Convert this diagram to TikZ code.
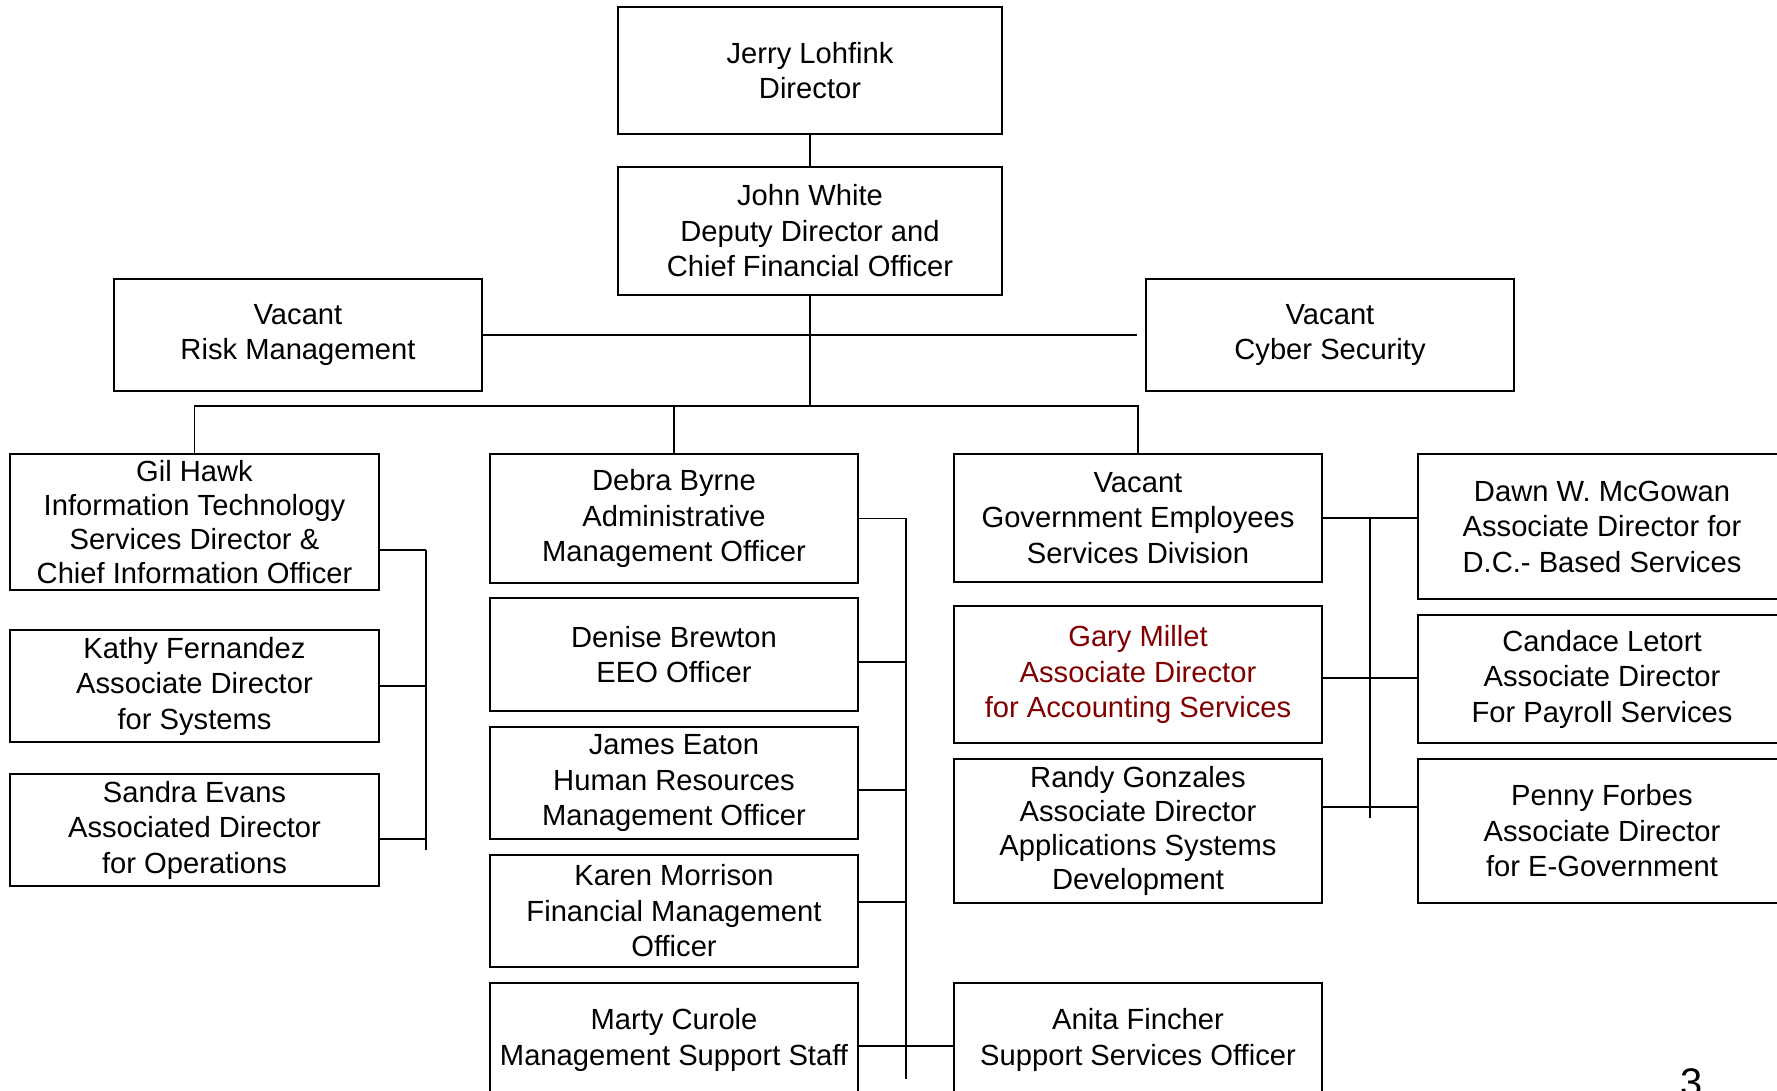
\documentclass[tikz,border=0pt]{standalone}
\usepackage{fontspec}
\setmainfont{Liberation Sans}
\usetikzlibrary{calc}
\definecolor{darkred}{RGB}{128,0,0}

\begin{document}
\begin{tikzpicture}[x=0.02cm, y=-0.02cm, line width=1.1pt,
    every node/.style={rectangle, draw, minimum width=7.36cm, inner sep=0pt, align=center, font=\fontsize{16.6}{20.2}\selectfont}]
        \useasboundingbox (0,0) rectangle (1777,1090);
        \clip (0,0) rectangle (1777,1090);

        % Nodes
        \node[minimum width=7.68cm, minimum height=2.54cm] (jerry) at (810,70.5) {Jerry Lohfink\\Director};
        \node[minimum width=7.68cm, minimum height=2.56cm] (john) at (810,231) {John White\\Deputy Director and\\Chief Financial Officer};
        \node[minimum height=2.24cm] (risk) at (298,335) {Vacant\\Risk Management};
        \node[minimum height=2.24cm] (cyber) at (1330,335) {Vacant\\Cyber Security};

        \node[minimum width=7.38cm, minimum height=2.72cm, font=\fontsize{16.6}{19.3}\selectfont] (gil) at (194.5,522) {Gil Hawk\\Information Technology\\Services Director \&\\Chief Information Officer};
        \node[minimum width=7.38cm, minimum height=2.24cm] (kathy) at (194.5,686) {Kathy Fernandez\\Associate Director\\for Systems};
        \node[minimum width=7.38cm, minimum height=2.24cm] (sandra) at (194.5,830) {Sandra Evans\\Associated Director\\for Operations};

        \node[minimum height=2.58cm] (debra) at (674,518.5) {Debra Byrne\\Administrative\\Management Officer};
        \node[minimum height=2.26cm] (denise) at (674,654.5) {Denise Brewton\\EEO Officer};
        \node[minimum height=2.24cm] (james) at (674,783) {James Eaton\\Human Resources\\Management Officer};
        \node[minimum height=2.24cm] (karen) at (674,911) {Karen Morrison\\Financial Management\\Officer};
        \node[minimum height=2.28cm] (marty) at (674,1040) {Marty Curole\\Management Support Staff};

        \node[minimum height=2.56cm] (ges) at (1138,518) {Vacant\\Government Employees\\Services Division};
        \node[minimum height=2.74cm, text=darkred] (gary) at (1138,674.5) {Gary Millet\\Associate Director\\for Accounting Services};
        \node[minimum height=2.88cm, font=\fontsize{16.6}{19.3}\selectfont] (randy) at (1138,831) {Randy Gonzales\\Associate Director\\Applications Systems\\Development};
        \node[minimum height=2.28cm] (anita) at (1138,1040) {Anita Fincher\\Support Services Officer};

        \node[minimum height=2.9cm] (dawn) at (1602,526.5) {Dawn W. McGowan\\Associate Director for\\D.C.- Based Services};
        \node[minimum height=2.56cm] (candace) at (1602,679) {Candace Letort\\Associate Director\\For Payroll Services};
        \node[minimum height=2.88cm] (penny) at (1602,831) {Penny Forbes\\Associate Director\\for E-Government};

        \node[draw=none, minimum width=0pt, anchor=base, font=\fontsize{22.7}{26}\selectfont] (page) at (1692,1096) {3};

        % Junctions
        \coordinate (bus) at (810,406);
        \coordinate (itspine) at (426,550);
        \coordinate (itend) at (426,850);
        \coordinate (adminspine) at (906,518);
        \coordinate (adminend) at (906,1079);
        \coordinate (gesspine) at (1370,518);
        \coordinate (gesend) at (1370,818);
        \coordinate (sandratie) at ($(sandra.east)+(0,9)$);
        \coordinate (denisetie) at ($(denise.east)+(0,7.5)$);
        \coordinate (jamestie) at ($(james.east)+(0,7)$);
        \coordinate (karentie) at ($(karen.east)+(0,-9)$);
        \coordinate (martytie) at ($(marty.east)+(0,6)$);
        \coordinate (garytie) at ($(gary.east)+(0,3.5)$);
        \coordinate (randytie) at ($(randy.east)+(0,-24)$);

        % Edges
        \draw (jerry) -- (john);
        \draw[shorten >=0.16cm] (risk.east) -- (cyber.west);
        \draw (john) -- (bus);
        \draw (gil.north) |- (bus) -| (ges.north);
        \draw (debra.north) -- (debra.north |- bus);

        \draw (itspine) -- (itend);
        \draw (itspine) -- (itspine -| gil.east);
        \draw (kathy.east) -- (kathy.east -| itspine);
        \draw (sandratie) -- (sandratie -| itspine);

        \draw (adminspine) -- (adminend);
        \draw (debra.east) -- (debra.east -| adminspine);
        \draw (denisetie) -- (denisetie -| adminspine);
        \draw (jamestie) -- (jamestie -| adminspine);
        \draw (karentie) -- (karentie -| adminspine);
        \draw (martytie) -- (martytie -| anita.west);

        \draw (gesspine) -- (gesend);
        \draw (ges.east) -- (ges.east -| dawn.west);
        \draw (garytie) -- (garytie -| candace.west);
        \draw (randytie) -- (randytie -| penny.west);
    \end{tikzpicture}
\end{document}
